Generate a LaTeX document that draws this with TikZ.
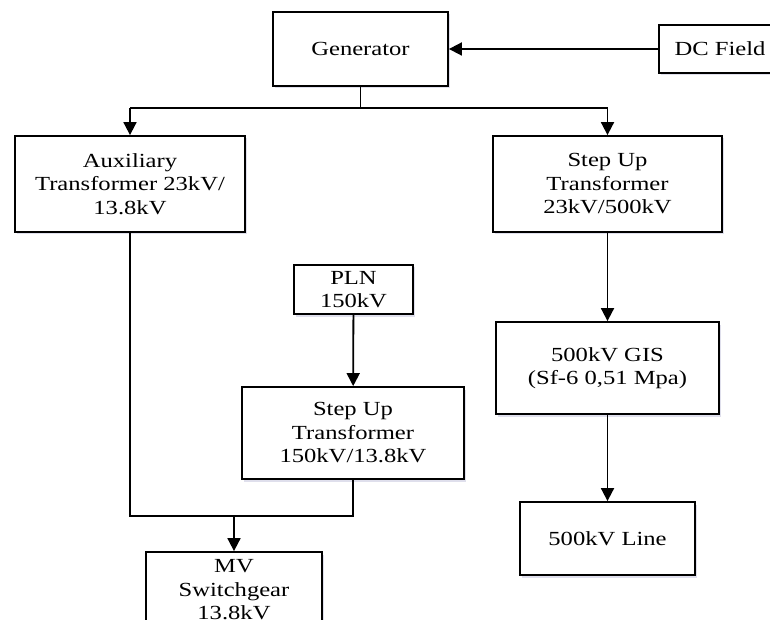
\documentclass[tikz,border=0pt]{standalone}
\usepackage{fontspec}
\setmainfont[FakeStretch=1.23]{Liberation Serif}
\usetikzlibrary{arrows.meta,shadows}
\begin{document}
\begin{tikzpicture}[x=1pt,y=1pt,line width=1.8pt,
  box/.style={draw,fill=white,align=center,inner sep=0pt,
    font=\fontsize{20}{23.5}\selectfont,
    drop shadow={shadow xshift=1.5pt,shadow yshift=-2.5pt,fill=blue!25!gray,opacity=0.2}},
  arr/.style={-{Triangle[length=13pt,width=13pt]}}]
\clip (0,0) rectangle (770,619);
\node[box,minimum width=175,minimum height=74] (gen) at (360.5,570) {Generator};
\node[box,minimum width=122,minimum height=48] (dc) at (720,570) {DC Field};
\node[box,minimum width=230,minimum height=96] (aux) at (130,435) {Auxiliary\\Transformer 23kV/\\13.8kV};
\node[box,minimum width=229,minimum height=96] (su1) at (607.5,435) {Step Up\\Transformer\\23kV/500kV};
\node[box,minimum width=119,minimum height=49] (pln) at (353.5,329.5) {PLN\\150kV};
\node[box,minimum width=222,minimum height=92] (su2) at (353,186) {Step Up\\Transformer\\150kV/13.8kV};
\node[box,minimum width=223,minimum height=92] (gis) at (607.5,251) {500kV GIS\\(Sf-6 0,51 Mpa)};
\node[box,minimum width=175,minimum height=73] (line) at (607.5,80.5) {500kV Line};
\node[box,minimum width=176,minimum height=76] (mv) at (234,29) {MV\\Switchgear\\13.8kV};
% connectors
\draw[arr] (dc) -- (gen);
\coordinate (bus) at (gen.south |- 0,511);
\draw (gen.south) -- (bus);
\draw[arr] (aux.north |- bus) -| (aux.north);
\draw[arr] (aux.north |- bus) -- (su1.north |- bus) -- (su1.north);
\draw[arr] (su1) -- (gis);
\draw[arr] (gis) -- (line);
\draw[arr] (pln) -- (su2);
\coordinate (low) at (mv.north |- 0,103);
\draw (aux.south) |- (low) -| (su2.south);
\draw[arr] (low) -- (mv.north);
\end{tikzpicture}
\end{document}
